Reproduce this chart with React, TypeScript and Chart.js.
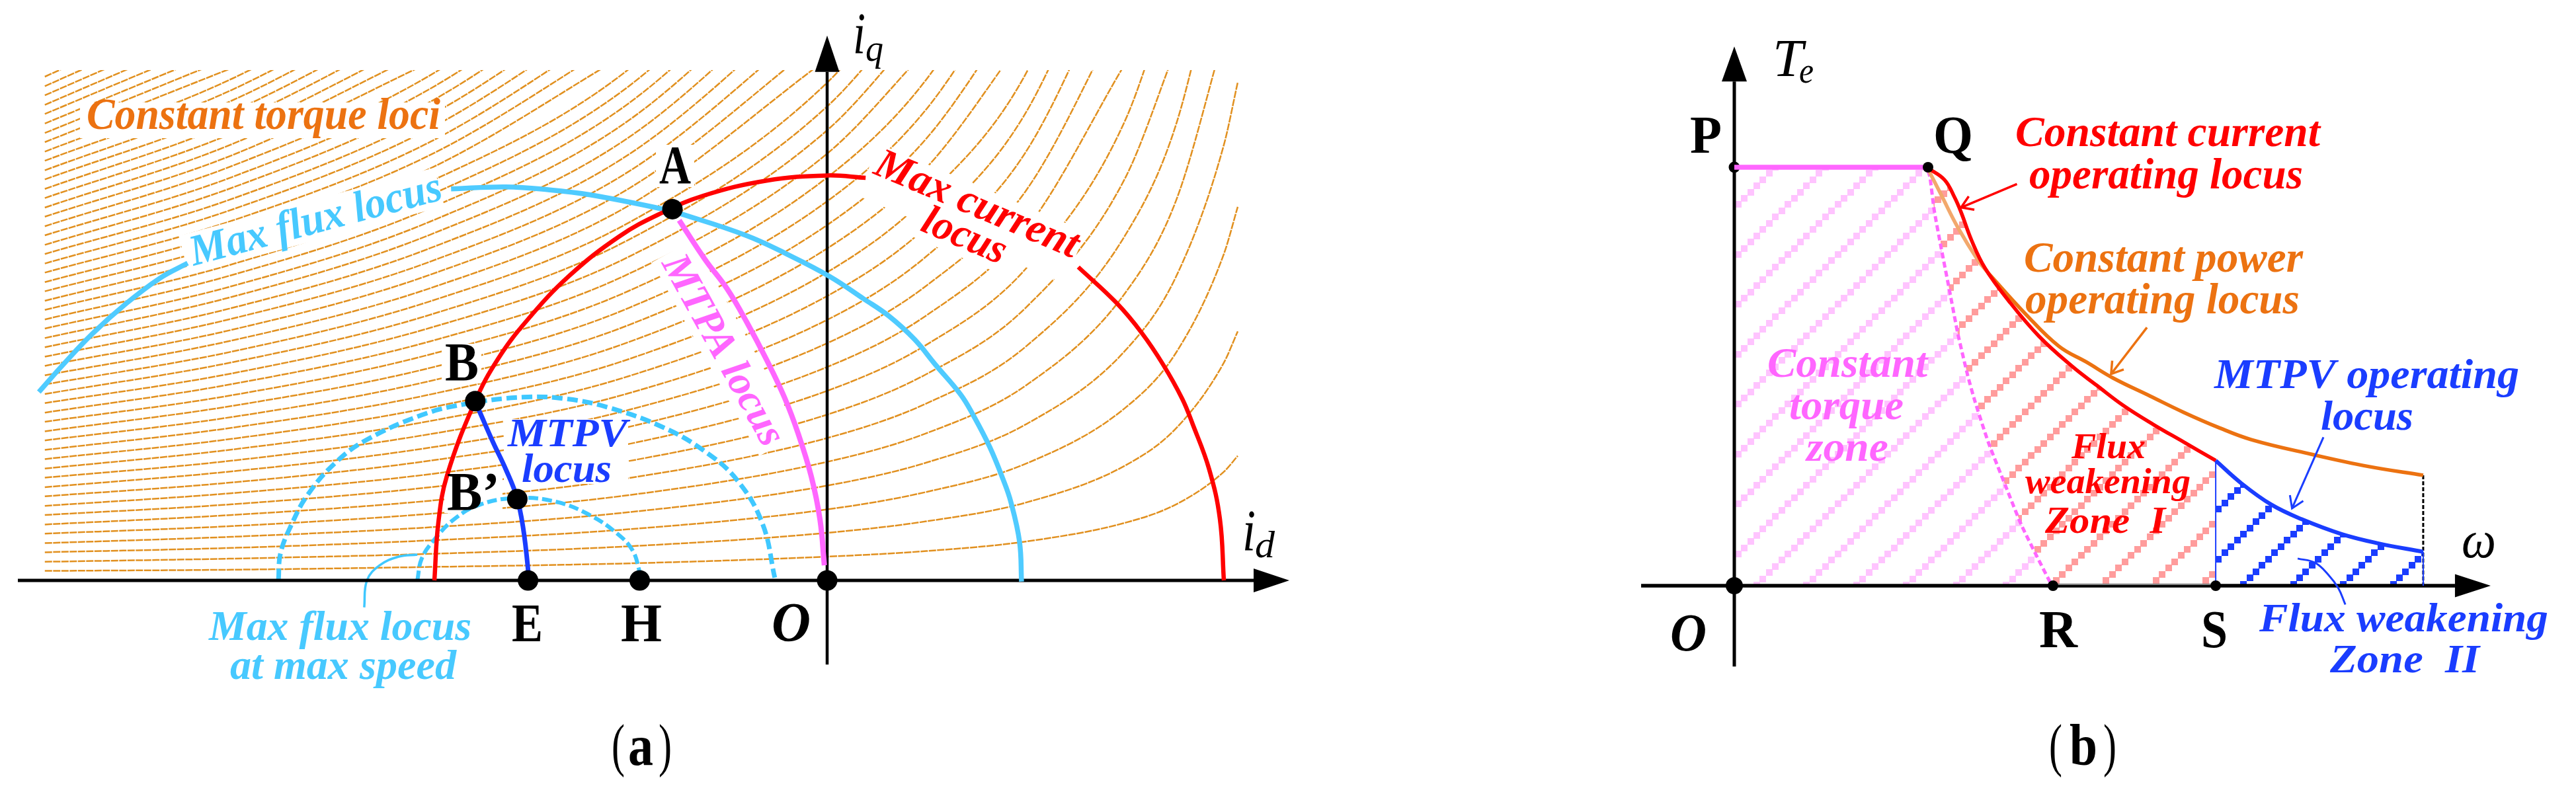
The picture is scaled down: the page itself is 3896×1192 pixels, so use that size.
import React, { useEffect, useRef } from "react";
import { Chart, registerables } from "chart.js";

Chart.register(...registerables);

type Pt = [number, number];

/* ---------- panel (a): current plane, id / iq in amperes ---------- */
const lociId = [-197.2, -150, -100, -50, 0, 25, 50, 75, 88, 100, 103.5];
const lociIq: number[][] = [
  [2.4, 2.7, 3.4, 4.3, 6.0, 7.4, 9.8, 14.5, 19.2, 27.4, 31.4],
  [4.7, 5.5, 6.7, 8.6, 12.0, 14.9, 19.6, 28.9, 38.4, 54.9, 62.8],
  [7.1, 8.2, 10.1, 12.9, 17.9, 22.3, 29.4, 43.4, 57.5, 82.3, 94.2],
  [9.4, 11.0, 13.4, 17.2, 23.9, 29.7, 39.3, 57.8, 76.7, 109.8, 125.6],
  [11.8, 13.7, 16.8, 21.5, 29.9, 37.1, 49.1, 72.3, 95.9, 137.2],
  [14.1, 16.5, 20.1, 25.8, 35.9, 44.6, 58.9, 86.8, 115.1, 164.6],
  [16.5, 19.2, 23.5, 30.1, 41.8, 52.0, 68.7, 101.2, 134.3],
  [18.8, 22.0, 26.8, 34.4, 47.8, 59.4, 78.5, 115.7, 153.4],
  [21.2, 24.7, 30.2, 38.7, 53.8, 66.8, 88.3, 130.1],
  [23.5, 27.5, 33.5, 43.0, 59.8, 74.3, 98.1, 144.6],
  [25.9, 30.2, 36.9, 47.2, 65.7, 81.7, 107.9, 159.1],
  [28.2, 33.0, 40.2, 51.5, 71.7, 89.1, 117.8, 173.5],
  [30.6, 35.7, 43.6, 55.8, 77.7, 96.6, 127.6, 188.0],
  [32.9, 38.5, 46.9, 60.1, 83.7, 104.0, 137.4],
  [35.3, 41.2, 50.3, 64.4, 89.6, 111.4, 147.2],
  [37.6, 44.0, 53.6, 68.7, 95.6, 118.8, 157.0],
  [40.0, 46.7, 57.0, 73.0, 101.6, 126.3, 166.8],
  [42.3, 49.5, 60.3, 77.3, 107.6, 133.7],
  [44.7, 52.2, 63.7, 81.6, 113.5, 141.1],
  [47.0, 55.0, 67.0, 85.9, 119.5, 148.5],
  [49.4, 57.7, 70.4, 90.2, 125.5, 156.0],
  [51.7, 60.5, 73.7, 94.5, 131.5],
  [54.1, 63.2, 77.1, 98.8, 137.4],
  [56.4, 66.0, 80.4, 103.1, 143.4],
  [58.8, 68.7, 83.8, 107.4, 149.4],
  [61.1, 71.5, 87.2, 111.7, 155.4],
  [63.5, 74.2, 90.5, 116.0, 161.3],
  [65.8, 77.0, 93.9, 120.3, 167.3],
  [68.2, 79.7, 97.2, 124.6, 173.3],
  [70.5, 82.5, 100.6, 128.9, 179.3],
  [72.9, 85.2, 103.9, 133.1],
  [75.2, 88.0, 107.3, 137.4],
  [77.6, 90.7, 110.6, 141.7],
  [79.9, 93.5, 114.0, 146.0],
  [82.3, 96.2, 117.3, 150.3],
  [84.6, 99.0, 120.7, 154.6],
  [87.0, 101.7, 124.0, 158.9],
  [89.3, 104.5, 127.4, 163.2],
  [91.7, 107.2, 130.7],
  [94.0, 110.0, 134.1],
  [96.4, 112.7, 137.4],
  [98.7, 115.5, 140.8],
  [101.1, 118.2, 144.1],
  [103.4, 121.0, 147.5],
  [105.8, 123.7, 150.8],
  [108.1, 126.5, 154.2],
  [110.5, 129.2],
  [112.8, 132.0],
  [115.2, 134.7],
  [117.6, 137.4],
  [119.9, 140.2],
  [122.3, 142.9],
  [124.6, 145.7],
  [127.0, 148.4],
];

const maxCurrentLeft: Pt[] = [[-99, 0], [-98, 14.6], [-95.8, 26.5], [-88.7, 45.2], [-83, 55.8], [-75.7, 65.5], [-65, 76.8], [-52.3, 86.8], [-41.8, 92.6], [-31.2, 97], [-15.3, 100.8], [0, 102.1], [9.7, 101.5]];
const maxCurrentRight: Pt[] = [[63.3, 79], [73, 69.9], [79.3, 62.4], [84.7, 54.4], [89.5, 45.8], [92.1, 39.5], [96.3, 28], [99, 15.5], [100, 0]];
const maxFluxLeft: Pt[] = [[-198.7, 47.5], [-192.5, 54.5], [-185.2, 62.2], [-176.7, 69.8], [-168.2, 76.2], [-161.2, 80]];
const maxFluxRight: Pt[] = [[-94.8, 98.7], [-81, 99.2], [-70.3, 98.5], [-59.7, 97.2], [-41.8, 93.7], [-36.5, 92.3], [-20.5, 87], [-10, 82.2], [0.7, 76.6], [9.2, 71], [15.5, 66.7], [22, 60.8], [27.2, 54.5], [33.7, 46.8], [36.8, 41.7], [41, 33.6], [44.3, 25.6], [46.3, 19.8], [48.5, 9.7], [49, -0.3]];
const mtpaLocus: Pt[] = [[-37.3, 90.8], [-30.7, 80.8], [-25.2, 73.5], [-20.2, 65], [-15.2, 55.5], [-10.7, 46], [-7.3, 37], [-4, 26.2], [-1.8, 15.3], [-0.7, 3.8]];
const mtpvLocus: Pt[] = [[-87.8, 43], [-84.2, 34.8], [-81, 28], [-78.3, 21.2], [-76.7, 13.7], [-75.4, 2.8], [-75.4, 0]];
const fluxDashedOuter: Pt[] = [[-138.3, 0.3], [-137.8, 6.8], [-135.2, 13.7], [-130.8, 21.8], [-123.5, 30.1], [-116, 35.5], [-102.2, 41.7], [-91.6, 44.4], [-76.7, 46.2], [-66, 45.8], [-55.5, 43.7], [-41.8, 38.8], [-31.2, 32.8], [-22.7, 25.3], [-16.3, 14.3], [-13.2, 0.7]];
const fluxDashedInner: Pt[] = [[-103.3, 0], [-102.2, 5.5], [-99, 10.3], [-93.7, 15.7], [-87.3, 19.2], [-78.2, 20.8], [-68.2, 19.8], [-59.7, 16.4], [-52.8, 11.7], [-49, 7.5], [-47.2, 2]];
const fluxLeader: Pt[] = [[-116.7, -6.8], [-116, 0], [-112.8, 3.8], [-108, 6], [-103.3, 6.5]];
const idAxis: Pt[] = [[-204, 0], [107.5, 0]];
const iqAxis: Pt[] = [[0, -21.2], [0, 128.2]];
const dotsA: Pt[] = [[-39, 93.6], [-88.7, 45.2], [-78.1, 20.5], [-75.4, 0], [-47.25, 0], [0, 0]];

/* ---------- panel (b): speed in %, torque in % ---------- */
const constantTorque: Pt[] = [[0, 100], [100, 100]];
const zoneBoundary: Pt[] = [[100, 99.2], [101, 97.6], [103.2, 89.7], [106.8, 80.7], [111.1, 70.5], [115.4, 60.2], [120.5, 50.2], [124.2, 44.1], [131.1, 34.3], [139.9, 24], [148.5, 14.2], [162.5, 1.3], [164.5, 0]];
const currentLocus: Pt[] = [[100, 99.8], [108.5, 97], [113.7, 92.8], [117.1, 89.2], [122.5, 82.5], [129.4, 75.9], [141.6, 68.1], [157.3, 59.6], [174.7, 52.3], [187, 47.9], [201, 43], [216.4, 38.5], [232.1, 34.3], [248.5, 29.9]];
const mtpvOperating: Pt[] = [[248.5, 29.9], [261.4, 24.6], [277.1, 19.4], [292.8, 15.9], [313.7, 12.3], [332.6, 10.1], [355.6, 8.1]];
const powerLocusFaint: Pt[] = [[100.7, 98.9], [106.8, 93.4], [115.4, 85.6], [125.9, 77.7], [131.1, 74.7]];
const powerLocus: Pt[] = [[131.1, 74.7], [150.2, 65], [167.6, 57.2], [181.9, 53.4], [195.6, 49.6], [214.7, 45.3], [232.1, 41.4], [249.5, 37.9], [266.9, 34.9], [298, 31.4], [327.3, 28.5], [355.6, 26.4]];
const pointerCurrent: Pt[] = [[145.9, 96], [117.1, 90.4]];
const pointerPower: Pt[] = [[213, 61.7], [194.5, 50.6]];
const pointerMtpv: Pt[] = [[304.1, 35.5], [287.9, 18.5]];
const zone2Leader: Pt[] = [[290.8, 6.5], [299.7, 5.5], [306.5, 2.7], [311.8, -0.6], [315.4, -4.5]];
const dropAtS: Pt[] = [[248.5, 29.9], [248.5, 0]];
const dropAtEndBlue: Pt[] = [[355.6, 8.1], [355.6, 0]];
const dropAtEndBlack: Pt[] = [[355.6, 26.4], [355.6, 0]];
const rToS: Pt[] = [[164.5, 0.35], [248.5, 0.35]];
const speedAxis: Pt[] = [[-48.1, 0], [372, 0]];
const torqueAxis: Pt[] = [[0, -19.3], [0, 120.5]];
const dotP: Pt[] = [[0, 100]];
const dotsB: Pt[] = [[0, 0], [100, 100], [164.5, 0], [248.5, 0]];

/* ---------- texts ---------- */
const ORANGE = "#EC7211";
const CYAN = "#47C9FF";
const RED = "#FF0000";
const PINK = "#FF66FF";
const BLUE = "#1A3DFF";
const BLACK = "#000000";
const BI = "italic bold";
const I = "italic";
const B = "bold";
const N = "normal";

type Label = { t: string; x: number; y: number; w: number; s: number; f: string; c: string; r?: number };
const labels: Label[] = [
  { t: "Constant torque loci", x: 131, y: 195, w: 535, s: 68, f: BI, c: ORANGE },
  { t: "Max flux locus", x: 293, y: 402, w: 392, s: 66, f: BI, c: CYAN, r: -14.9 },
  { t: "Max current", x: 1319, y: 262, w: 329, s: 64, f: BI, c: RED, r: 23 },
  { t: "locus", x: 1390, y: 348, w: 133, s: 64, f: BI, c: RED, r: 23 },
  { t: "MTPA locus", x: 1000, y: 398, w: 321, s: 62, f: BI, c: PINK, r: 61 },
  { t: "MTPV", x: 768, y: 675, w: 181, s: 62, f: BI, c: BLUE },
  { t: "locus", x: 789, y: 729, w: 136, s: 62, f: BI, c: BLUE },
  { t: "Max flux locus", x: 316, y: 968, w: 397, s: 64, f: BI, c: CYAN },
  { t: "at max speed", x: 348, y: 1027, w: 342, s: 64, f: BI, c: CYAN },
  { t: "A", x: 997, y: 277, w: 48, s: 82, f: B, c: BLACK },
  { t: "B", x: 673, y: 575, w: 51, s: 82, f: B, c: BLACK },
  { t: "B’", x: 676, y: 771, w: 80, s: 82, f: B, c: BLACK },
  { t: "E", x: 774, y: 970, w: 47, s: 82, f: B, c: BLACK },
  { t: "H", x: 939, y: 970, w: 62, s: 82, f: B, c: BLACK },
  { t: "O", x: 1167, y: 970, w: 59, s: 84, f: BI, c: BLACK },
  { t: "i", x: 1290, y: 80, w: 19, s: 88, f: I, c: BLACK },
  { t: "q", x: 1309, y: 92, w: 27, s: 58, f: I, c: BLACK },
  { t: "i", x: 1879, y: 832, w: 20, s: 88, f: I, c: BLACK },
  { t: "d", x: 1898, y: 843, w: 30, s: 58, f: I, c: BLACK },
  { t: "(", x: 925, y: 1157, w: 20, s: 88, f: N, c: BLACK },
  { t: "a", x: 950, y: 1157, w: 38, s: 88, f: B, c: BLACK },
  { t: ")", x: 996, y: 1157, w: 20, s: 88, f: N, c: BLACK },

  { t: "T", x: 2681, y: 115, w: 46, s: 81, f: I, c: BLACK },
  { t: "e", x: 2721, y: 125, w: 22, s: 55, f: I, c: BLACK },
  { t: "P", x: 2556, y: 231, w: 48, s: 80, f: B, c: BLACK },
  { t: "Q", x: 2924, y: 231, w: 60, s: 80, f: B, c: BLACK },
  { t: "Constant current", x: 3048, y: 221, w: 461, s: 66, f: BI, c: RED },
  { t: "operating locus", x: 3069, y: 285, w: 414, s: 66, f: BI, c: RED },
  { t: "Constant power", x: 3061, y: 411, w: 422, s: 66, f: BI, c: ORANGE },
  { t: "operating locus", x: 3063, y: 474, w: 415, s: 66, f: BI, c: ORANGE },
  { t: "MTPV operating", x: 3349, y: 587, w: 461, s: 64, f: BI, c: BLUE },
  { t: "locus", x: 3510, y: 650, w: 140, s: 64, f: BI, c: BLUE },
  { t: "Constant", x: 2673, y: 570, w: 242, s: 64, f: BI, c: PINK },
  { t: "torque", x: 2706, y: 634, w: 173, s: 64, f: BI, c: PINK },
  { t: "zone", x: 2732, y: 697, w: 124, s: 64, f: BI, c: PINK },
  { t: "Flux", x: 3133, y: 693, w: 112, s: 55, f: BI, c: RED },
  { t: "weakening", x: 3063, y: 746, w: 250, s: 55, f: BI, c: RED },
  { t: "Zone  I", x: 3093, y: 806, w: 182, s: 56, f: BI, c: RED },
  { t: "ω", x: 3723, y: 843, w: 52, s: 80, f: I, c: BLACK },
  { t: "O", x: 2526, y: 984, w: 55, s: 80, f: BI, c: BLACK },
  { t: "R", x: 3084, y: 979, w: 58, s: 80, f: B, c: BLACK },
  { t: "S", x: 3329, y: 979, w: 40, s: 80, f: B, c: BLACK },
  { t: "Flux weakening", x: 3417, y: 955, w: 437, s: 62, f: BI, c: BLUE },
  { t: "Zone  II", x: 3524, y: 1017, w: 226, s: 62, f: BI, c: BLUE },
  { t: "(", x: 3099, y: 1157, w: 20, s: 88, f: N, c: BLACK },
  { t: "b", x: 3130, y: 1157, w: 42, s: 88, f: B, c: BLACK },
  { t: ")", x: 3181, y: 1157, w: 20, s: 88, f: N, c: BLACK },
];

/* white plates that interrupt the torque loci behind the texts */
const plates = [
  { x: 121, y: 195, w: 552, up: 40, down: 14, r: 0 },
  { x: 283, y: 405, w: 400, up: 50, down: 10, r: -14.9 },
  { x: 1312, y: 259, w: 340, up: 45, down: 40, r: 23 },
  { x: 1380, y: 345, w: 145, up: 45, down: 12, r: 23 },
  { x: 995, y: 392, w: 335, up: 60, down: 10, r: 61 },
  { x: 762, y: 730, w: 188, up: 96, down: 2, r: 0 },
  { x: 668, y: 575, w: 60, up: 55, down: 5, r: 0 },
  { x: 992, y: 277, w: 58, up: 58, down: 6, r: 0 },
  { x: 672, y: 771, w: 88, up: 56, down: 5, r: 0 },
];

const hatchPlugin = {
  id: "notes",
  beforeDatasetDraw(chart: any, args: any) {
    const ds = chart.data.datasets[args.index];
    if (!ds.platesBefore) return;
    const c = chart.ctx;
    c.save();
    c.fillStyle = "#ffffff";
    for (const p of plates) {
      c.save();
      c.translate(p.x, p.y);
      c.rotate((p.r * Math.PI) / 180);
      c.fillRect(0, -p.up, p.w, p.up + p.down);
      c.restore();
    }
    c.restore();
  },
  afterDatasetDraw(chart: any, args: any) {
    const ds = chart.data.datasets[args.index];
    if (!ds.head) return;
    const pts = args.meta.data;
    const a = pts[pts.length - 2];
    const b = pts[pts.length - 1];
    const ang = Math.atan2(b.y - a.y, b.x - a.x);
    const c = chart.ctx;
    c.save();
    c.translate(b.x, b.y);
    c.rotate(ang);
    if (ds.head.open) {
      c.strokeStyle = ds.borderColor;
      c.lineWidth = ds.borderWidth;
      c.beginPath();
      c.moveTo(-ds.head.len, -ds.head.half);
      c.lineTo(0, 0);
      c.lineTo(-ds.head.len, ds.head.half);
      c.stroke();
    } else {
      c.fillStyle = ds.borderColor;
      c.beginPath();
      c.moveTo(0, -ds.head.half);
      c.lineTo(ds.head.len, 0);
      c.lineTo(0, ds.head.half);
      c.closePath();
      c.fill();
    }
    c.restore();
  },
  afterDatasetsDraw(chart: any) {
    const c = chart.ctx;
    c.save();
    c.textBaseline = "alphabetic";
    c.textAlign = "left";
    for (const l of labels) {
      c.save();
      c.font = `${l.f} ${l.s}px "Liberation Serif"`;
      c.fillStyle = l.c;
      const m = c.measureText(l.t).width;
      c.translate(l.x, l.y);
      c.rotate(((l.r || 0) * Math.PI) / 180);
      c.scale(l.w / m, 1);
      c.fillText(l.t, 0, 0);
      c.restore();
    }
    c.restore();
  },
};

function stairPattern(ctx: CanvasRenderingContext2D, colour: string, ground: string | null, phase: number) {
  const size = 151;
  const period = 75.5;
  const step = size / 16;
  const tile = document.createElement("canvas");
  tile.width = size;
  tile.height = size;
  const c = tile.getContext("2d") as CanvasRenderingContext2D;
  if (ground) {
    c.fillStyle = ground;
    c.fillRect(0, 0, size, size);
  }
  c.fillStyle = colour;
  for (let i = 0; i < 16; i++) {
    const cx = 4.7 + i * step;
    const cy = (((phase - cx) % period) + period) % period;
    for (const sy of [cy, cy + period]) {
      for (const ox of [-size, 0, size]) {
        for (const oy of [-size, 0, size]) {
          c.fillRect(Math.round(cx - 4.7) + ox, Math.round(sy - 4.7) + oy, 10, 10);
        }
      }
    }
  }
  return ctx.createPattern(tile, "repeat") as CanvasPattern;
}

const pts = (a: Pt[]) => a.map(([x, y]) => ({ x, y }));

function curve(data: Pt[], axes: "a" | "b", color: string, width: number, extra: any = {}) {
  return {
    data: pts(data),
    xAxisID: "x" + axes,
    yAxisID: "y" + axes,
    showLine: true,
    borderColor: color,
    borderWidth: width,
    pointRadius: 0,
    tension: 0.4,
    borderCapStyle: "butt",
    fill: false,
    ...extra,
  };
}

function dots(data: Pt[], axes: "a" | "b", color: string, radius: number) {
  return {
    data: pts(data),
    xAxisID: "x" + axes,
    yAxisID: "y" + axes,
    showLine: false,
    pointRadius: radius,
    pointBackgroundColor: color,
    pointBorderWidth: 0,
    borderColor: color,
  };
}

export default function App() {
  const ref = useRef<HTMLCanvasElement | null>(null);
  useEffect(() => {
    const canvas = ref.current as HTMLCanvasElement;
    const ctx = canvas.getContext("2d") as CanvasRenderingContext2D;

    const lociLayers = lociIq.map((row) => ({
      data: row.map((iq, j) => ({ x: lociId[j], y: iq })),
      xAxisID: "xa",
      yAxisID: "ya",
      showLine: true,
      borderColor: "#E1901F",
      borderWidth: 2.5,
      borderDash: [11, 1.5],
      pointRadius: 0,
      cubicInterpolationMode: "monotone",
      clip: { left: 0, top: -106, right: 0, bottom: 0 },
      fill: false,
    }));

    const zone1Fill = curve(currentLocus, "b", "transparent", 0, { fill: "origin", backgroundColor: stairPattern(ctx, "#FF9C9C", null, 61.5) });
    const zone2Fill = curve(mtpvOperating, "b", "transparent", 0, { fill: "origin", backgroundColor: stairPattern(ctx, BLUE, null, 48) });
    const zone0Fill = curve([...constantTorque, ...zoneBoundary], "b", "transparent", 0, { tension: 0, fill: "origin", backgroundColor: stairPattern(ctx, "#FFC4FF", "#ffffff", 68.5) });

    /* bottom layer first; reversed below because Chart.js paints dataset 0 last */
    const layers: any[] = [
      ...lociLayers,
      curve(fluxDashedOuter, "a", "#3FC8FF", 7, { borderDash: [16, 7], platesBefore: true }),
      curve(fluxDashedInner, "a", "#3FC8FF", 6, { borderDash: [15, 6] }),
      curve(fluxLeader, "a", "#3FC8FF", 3.5),
      curve(idAxis, "a", BLACK, 5, { tension: 0, head: { len: 54, half: 18 } }),
      curve(iqAxis, "a", BLACK, 4.5, { tension: 0, head: { len: 55, half: 18.5 } }),
      curve(maxFluxLeft, "a", "#4FCBFF", 7.5),
      curve(maxFluxRight, "a", "#4FCBFF", 7.5),
      curve(maxCurrentLeft, "a", RED, 6.5),
      curve(maxCurrentRight, "a", RED, 6.5),
      curve(mtpaLocus, "a", PINK, 8),
      curve(mtpvLocus, "a", BLUE, 7),
      dots(dotsA, "a", BLACK, 15.5),

      zone1Fill,
      zone2Fill,
      zone0Fill,
      curve(speedAxis, "b", BLACK, 5.5, { tension: 0, head: { len: 54, half: 17.5 } }),
      curve(torqueAxis, "b", BLACK, 5, { tension: 0, head: { len: 53, half: 19 } }),
      curve(rToS, "b", "#808080", 2.2, { tension: 0 }),
      curve(dropAtEndBlack, "b", BLACK, 3, { tension: 0, borderDash: [6, 3] }),
      curve(dropAtS, "b", BLUE, 2, { tension: 0 }),
      curve(dropAtEndBlue, "b", BLUE, 2, { tension: 0 }),
      curve(zoneBoundary, "b", PINK, 5, { tension: 0.2, borderDash: [9, 5] }),
      curve(powerLocusFaint, "b", "#F2A86C", 5.5),
      curve(powerLocus, "b", ORANGE, 5.5),
      curve(currentLocus, "b", RED, 5.5),
      curve(mtpvOperating, "b", BLUE, 6),
      curve(pointerCurrent, "b", RED, 3.5, { tension: 0, head: { open: true, len: 17, half: 11 } }),
      curve(pointerPower, "b", ORANGE, 3.5, { tension: 0, head: { open: true, len: 17, half: 11 } }),
      curve(pointerMtpv, "b", BLUE, 3, { tension: 0, head: { open: true, len: 17, half: 11 } }),
      curve(zone2Leader, "b", BLUE, 3),
      dots(dotP, "b", BLACK, 8.5),
      curve(constantTorque, "b", PINK, 7.5, { tension: 0 }),
      dots(dotsB, "b", BLACK, 8),
      dots([[0, 0]], "b", BLACK, 13),
    ];

    const chart = new Chart(canvas, {
      type: "scatter",
      data: { datasets: layers.slice().reverse() },
      options: {
        responsive: false,
        animation: false,
        devicePixelRatio: 1,
        events: [],
        layout: { padding: 0, autoPadding: false },
        plugins: { legend: { display: false }, tooltip: { enabled: false }, title: { display: false } },
        scales: {
          xa: { type: "linear", axis: "x", display: false, min: -208.5, max: 440.8333 },
          ya: { type: "linear", axis: "y", display: false, min: -52.3333, max: 146.3333 },
          xb: { type: "linear", axis: "x", display: false, min: -895.2218, max: 434.4710 },
          yb: { type: "linear", axis: "y", display: false, min: -48.3412, max: 139.9684 },
        },
      },
      plugins: [hatchPlugin],
    } as any);
    return () => chart.destroy();
  }, []);
  return (
    <canvas
      ref={ref}
      width={3896}
      height={1192}
      style={{ position: "absolute", left: 0, top: 0, width: 3896, height: 1192, display: "block", background: "#ffffff" }}
    />
  );
}
